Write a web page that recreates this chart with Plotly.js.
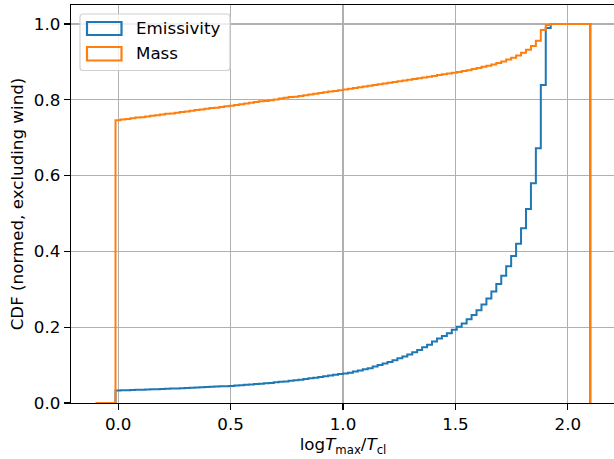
<!DOCTYPE html>
<html>
<head>
<meta charset="utf-8">
<script src="https://cdn.plot.ly/plotly-3.0.1.min.js"></script>
<style>
html,body{margin:0;padding:0;overflow:hidden;background:#fff;}
#chart{width:616px;height:459px;}
</style>
</head>
<body>
<div id="chart"></div>
<script>
// Bin edges of the histogram (log Tmax/Tcl)
const binEdges = [-0.1,-0.078,-0.056,-0.034,-0.012,0.010,0.032,0.054,0.076,0.098,
0.120,0.142,0.164,0.186,0.208,0.230,0.252,0.274,0.296,0.318,
0.340,0.362,0.384,0.406,0.428,0.450,0.472,0.494,0.516,0.538,
0.560,0.582,0.604,0.626,0.648,0.670,0.692,0.714,0.736,0.758,
0.780,0.802,0.824,0.846,0.868,0.890,0.912,0.934,0.956,0.978,
1.000,1.022,1.044,1.066,1.088,1.110,1.132,1.154,1.176,1.198,
1.220,1.242,1.264,1.286,1.308,1.330,1.352,1.374,1.396,1.418,
1.440,1.462,1.484,1.506,1.528,1.550,1.572,1.594,1.616,1.638,
1.660,1.682,1.704,1.726,1.748,1.770,1.792,1.814,1.836,1.858,
1.880,1.902,1.924,1.946,1.968,1.990,2.012,2.034,2.056,2.078,2.100];

// Cumulative (normed) values per bin
const emissivityCDF = [0,0,0,0,
0.033,0.0334,0.0339,0.0343,0.0348,0.0352,0.0357,0.0361,0.0366,0.037,
0.0375,0.038,0.0385,0.0391,0.0397,0.0403,0.0409,0.0415,0.0421,0.0427,
0.0433,0.0439,0.0445,
0.045,0.046,0.047,0.048,0.049,0.050,0.051,0.052,0.053,0.0545,0.0558,
0.057,0.0585,0.060,0.0616,0.0632,0.065,0.0668,0.0687,0.0706,0.0726,0.0747,0.0765,
0.078,0.080,0.083,0.086,0.089,0.092,0.096,0.100,0.104,0.108,0.113,0.118,
0.123,0.128,0.134,0.140,0.147,0.154,0.162,0.170,0.177,0.184,0.193,0.201,
0.210,0.221,0.232,0.245,0.260,0.276,0.294,0.314,0.336,0.361,0.388,0.420,
0.461,0.512,0.580,0.672,0.839,0.989,
1,1,1,1,1,1,1,1];

const massCDF = [0,0,0,0,
0.746,0.748,0.749,0.751,0.753,0.754,0.756,0.758,0.759,0.761,
0.763,0.764,0.766,0.768,0.769,0.771,0.773,0.774,0.776,0.778,
0.779,0.781,0.783,0.784,0.786,0.788,0.790,0.792,0.794,0.796,
0.797,0.799,0.801,0.803,0.805,0.807,0.808,0.810,0.812,0.814,
0.816,0.818,0.820,0.822,0.823,0.825,0.827,0.829,0.831,0.833,
0.835,0.837,0.839,0.841,0.843,0.845,0.847,0.849,0.851,0.853,
0.855,0.857,0.859,0.861,0.863,0.865,0.867,0.869,0.871,0.873,
0.876,0.878,0.881,0.884,0.887,0.890,0.893,0.897,0.901,0.906,
0.911,0.917,0.924,0.932,0.942,0.956,0.984,0.997,1,1,
1,1,1,1,1,1];

const seriesNames = ["Emissivity", "Mass"];
const xTickVals = [0, 0.5, 1.0, 1.5, 2.0];
const yTickVals = [0, 0.2, 0.4, 0.6, 0.8, 1.0];

const C_BLUE = "#1f77b4", C_ORANGE = "#ff7f0e";
const FONT = "DejaVu Sans, sans-serif";
const FS = 16.7;

function stepTrace(vals, color, name){
  const n = vals.length;
  const x = [binEdges[0]].concat(binEdges, [binEdges[n]]);
  const y = [0].concat(vals, [vals[n-1], 0]);
  return {x: x, y: y, type: "scatter", mode: "lines", name: name,
    line: {shape: "hv", color: color, width: 2}, showlegend: false, hoverinfo: "skip"};
}

const traces = [stepTrace(emissivityCDF, C_BLUE, seriesNames[0]),
                stepTrace(massCDF, C_ORANGE, seriesNames[1])];

// legend drawn manually (matplotlib-style patch legend)
const L = 71, W = 544, T = 5, H = 398;
const px = v => (v - L) / W;
const py = v => (T + H - v) / H;
function roundRect(x0,y0,x1,y1,r){
  const rx = r / W, ry = r / H;
  const a = px(x0), b = px(x1), top = py(y0), bot = py(y1);
  return `M${a+rx},${top} L${b-rx},${top} Q${b},${top} ${b},${top-ry} L${b},${bot+ry} Q${b},${bot} ${b-rx},${bot} L${a+rx},${bot} Q${a},${bot} ${a},${bot+ry} L${a},${top-ry} Q${a},${top} ${a+rx},${top} Z`;
}
const shapes = [
  {type:"path", xref:"paper", yref:"paper", path: roundRect(80,14,230,70.5,3),
   line:{color:"#d0d0d0", width:1.2}, fillcolor:"rgba(255,255,255,0.8)", layer:"above"},
  {type:"rect", xref:"paper", yref:"paper", x0:px(87), x1:px(121.5), y0:py(35), y1:py(22),
   line:{color:C_BLUE, width:2.2}, fillcolor:"rgba(0,0,0,0)", layer:"above"},
  {type:"rect", xref:"paper", yref:"paper", x0:px(87), x1:px(121.5), y0:py(60.5), y1:py(47),
   line:{color:C_ORANGE, width:2.2}, fillcolor:"rgba(0,0,0,0)", layer:"above"}
];
const annotations = [
  {xref:"paper", yref:"paper", x:px(134), y:py(28.5), xanchor:"left", yanchor:"middle",
   text:seriesNames[0], showarrow:false, font:{family:FONT, size:FS, color:"#000"}},
  {xref:"paper", yref:"paper", x:px(134), y:py(53.5), xanchor:"left", yanchor:"middle",
   text:seriesNames[1], showarrow:false, font:{family:FONT, size:FS, color:"#000"}}
];

const axisCommon = {
  showline: true, mirror: true, linecolor: "#000", linewidth: 1.3,
  ticks: "outside", ticklen: 6, tickwidth: 1.3, tickcolor: "#000",
  showgrid: true, gridcolor: "#b0b0b0", gridwidth: 1.3, zeroline: false,
  tickfont: {family: FONT, size: FS, color: "#000"}, tickformat: ".1f"
};

const layout = {
  width: 616, height: 459,
  margin: {l: 71, r: 1, t: 5, b: 56},
  paper_bgcolor: "#fff", plot_bgcolor: "#fff",
  showlegend: false,
  font: {family: FONT, size: FS, color: "#000"},
  xaxis: Object.assign({}, axisCommon, {
    range: [-0.21, 2.21], tickvals: xTickVals,
    title: {text: "log<i>T</i><sub>max</sub>/<i>T</i><sub>cl</sub>", font: {family: FONT, size: FS, color: "#000"}, standoff: 4}
  }),
  yaxis: Object.assign({}, axisCommon, {
    range: [0, 1.05], tickvals: yTickVals,
    title: {text: "CDF (normed, excluding wind)", font: {family: FONT, size: FS, color: "#000"}, standoff: 6}
  }),
  shapes: shapes, annotations: annotations
};

Plotly.newPlot("chart", traces, layout, {displayModeBar: false, staticPlot: true});
</script>
</body>
</html>
